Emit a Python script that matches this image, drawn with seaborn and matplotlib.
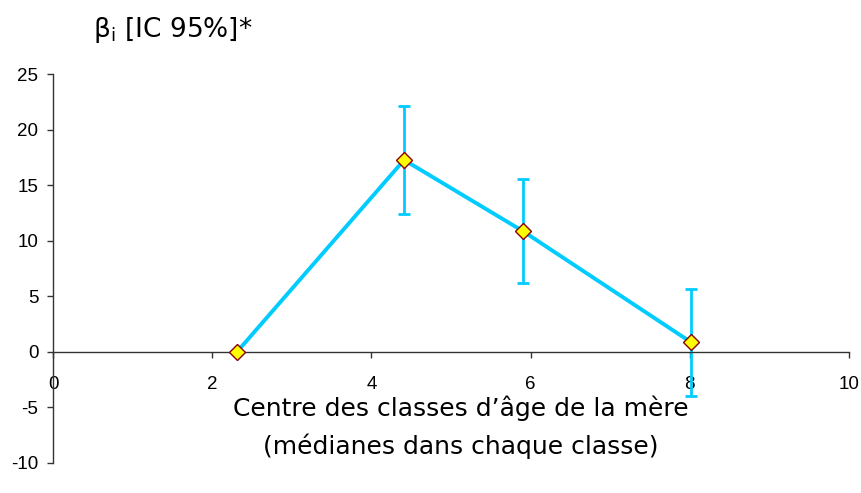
import matplotlib
matplotlib.use("Agg")
import matplotlib.pyplot as plt
import seaborn as sns
import pandas as pd

# Median maternal age per class and estimated coefficients with 95% CI
centres = [2.31, 4.41, 5.90, 8.01]
beta = [0.0, 17.3, 10.9, 0.9]
ci_low = [0.0, 12.4, 6.2, -4.0]
ci_high = [0.0, 22.2, 15.6, 5.7]

x_ticks = [0, 2, 4, 6, 8, 10]
y_ticks = [-10, -5, 0, 5, 10, 15, 20, 25]

sns.set_theme(style="white")
plt.rcParams["font.family"] = ["DejaVu Sans"]
plt.rcParams["text.color"] = "black"

line_color = "#00CCFF"
df = pd.DataFrame({"centre": centres, "beta": beta})

fig = plt.figure(figsize=(8.62, 4.93), dpi=100)
ax = fig.add_axes([0.0615, 0.0609, 0.9235, 0.788])

# confidence intervals (skip the reference class)
err_x = centres[1:]
err_y = beta[1:]
lower = [b - l for b, l in zip(beta[1:], ci_low[1:])]
upper = [h - b for b, h in zip(beta[1:], ci_high[1:])]
ax.errorbar(err_x, err_y, yerr=[lower, upper], fmt="none", ecolor=line_color,
            elinewidth=2.0, capsize=4.5, capthick=2.0, zorder=2)

sns.lineplot(data=df, x="centre", y="beta", ax=ax, color=line_color,
             linewidth=2.8, zorder=3)
ax.plot(centres, beta, linestyle="none", marker="D", markersize=8.5,
        markerfacecolor="#FFFF00", markeredgecolor="#8B0000",
        markeredgewidth=1.0, zorder=4)

ax.set_xlim(0, 10)
ax.set_ylim(-10, 25)
ax.set_xticks(x_ticks, [str(t) for t in x_ticks])
ax.set_yticks(y_ticks, [str(t) for t in y_ticks])

for side in ("top", "right"):
    ax.spines[side].set_visible(False)
ax.spines["bottom"].set_position(("data", 0))
ax.spines["left"].set_position(("data", 0))
for side in ("bottom", "left"):
    ax.spines[side].set_color("#333333")
    ax.spines[side].set_linewidth(1.0)

ax.tick_params(axis="x", direction="out", length=4.5, width=1.0, color="#333333",
               pad=13, labelcolor="black", bottom=True, labelsize=13.5,
               labelfontfamily="Liberation Sans")
ax.tick_params(axis="y", direction="out", length=4.5, width=1.0, color="#333333",
               pad=6, labelcolor="black", left=True, labelsize=13.5,
               labelfontfamily="Liberation Sans")
ax.set_xlabel("")
ax.set_ylabel("")
ax.grid(False)

fig.text(0.108, 0.94, r"β$_{\mathrm{i}}$ [IC 95%]*", fontsize=19, ha="left",
         va="center", color="black")
fig.text(0.535, 0.172, "Centre des classes d’âge de la mère", fontsize=18,
         ha="center", va="center", color="black")
fig.text(0.535, 0.095, "(médianes dans chaque classe)", fontsize=18,
         ha="center", va="center", color="black")

fig.savefig("out.png", dpi=100)
